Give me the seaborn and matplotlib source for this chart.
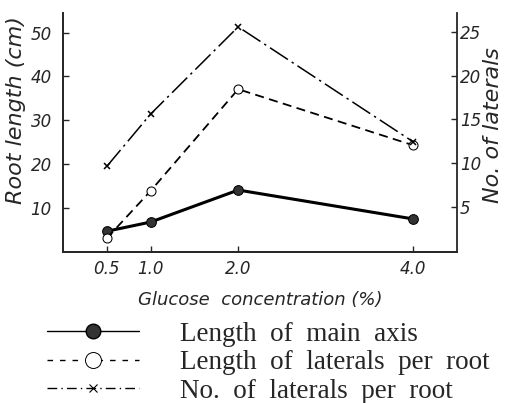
import numpy as np
import pandas as pd
import seaborn as sns
import matplotlib.pyplot as plt
from matplotlib.lines import Line2D

glucose = [0.5, 1.0, 2.0, 4.0]
main_axis_len = [4.7, 6.8, 14.1, 7.5]        # cm, left axis
lateral_len = [3.1, 13.9, 37.1, 24.3]        # cm, left axis
n_laterals = [9.6, 15.6, 25.6, 12.4]         # count, right axis

x_ticks = [0.5, 1.0, 2.0, 4.0]
x_ticklabels = ["0.5", "1.0", "2.0", "4.0"]
left_ticks = [10, 20, 30, 40, 50]
right_ticks = [5, 10, 15, 20, 25]

legend_labels = ["Length  of  main  axis",
                 "Length  of  laterals  per  root",
                 "No.  of  laterals  per  root"]

df = pd.DataFrame({"glucose": glucose, "main": main_axis_len,
                   "lateral": lateral_len, "count": n_laterals})

sns.set_style("ticks")
plt.rcParams['font.family'] = ['DejaVu Sans']

fig = plt.figure(figsize=(5.08, 4.03), dpi=100)
ax = fig.add_axes([0.124, 0.375, 0.776, 0.593])
ax2 = ax.twinx()

sns.lineplot(data=df, x="glucose", y="main", ax=ax, color="black",
             linewidth=2.2, marker="o", markersize=7, markerfacecolor="#333333",
             markeredgecolor="black")
sns.lineplot(data=df, x="glucose", y="lateral", ax=ax, color="black",
             linewidth=1.3, linestyle=(0, (5, 3)), marker="o", markersize=6.5,
             markerfacecolor="white", markeredgecolor="black")
sns.lineplot(data=df, x="glucose", y="count", ax=ax2, color="black",
             linewidth=1.1, linestyle=(0, (14, 3, 1.5, 3)), marker="x",
             markersize=5, markeredgewidth=1.1, markeredgecolor="black")

ax.set_xlim(0, 4.5)
ax.set_ylim(0, 54.5)
ax2.set_ylim(-0.2, 27.2)

tick_font = dict(fontsize=12, style="italic")
ax.set_xticks(x_ticks)
ax.set_xticklabels(x_ticklabels, **tick_font)
ax.set_yticks(left_ticks)
ax.set_yticklabels([str(t) for t in left_ticks], **tick_font)
ax2.set_yticks(right_ticks)
ax2.set_yticklabels([str(t) for t in right_ticks], **tick_font)

ax.tick_params(axis="x", direction="in", length=4, width=1, pad=6)
ax.tick_params(axis="y", direction="in", length=4, width=1, pad=8)
ax2.tick_params(axis="y", direction="in", length=4, width=1, pad=2)

for a in (ax, ax2):
    a.spines["top"].set_visible(False)
    for s in ("left", "right", "bottom"):
        a.spines[s].set_linewidth(1.3)
ax.spines["right"].set_visible(False)

ax.set_xlabel("Glucose  concentration (%)", fontsize=13, style="italic",
              labelpad=9)
ax.set_ylabel("Root length (cm)", fontsize=16, style="italic", labelpad=3)
ax2.set_ylabel("No. of laterals", fontsize=16, style="italic", labelpad=1)
# labels sit above centre in the original
ax.yaxis.label.set_y(0.594)
ax2.yaxis.label.set_y(0.53)

handles = [
    Line2D([], [], color="black", linewidth=1.0, marker="o", markersize=10.5,
           markerfacecolor="#333333", markeredgecolor="black"),
    Line2D([], [], color="black", linewidth=1.0, linestyle=(0, (4, 5)),
           marker="o", markersize=11.5, markerfacecolor="white",
           markeredgecolor="black", markeredgewidth=0.7),
    Line2D([], [], color="black", linewidth=1.0, linestyle=(0, (7, 3, 1, 3)),
           marker="x", markersize=6, markeredgewidth=0.8),
]
fig.legend(handles, legend_labels, loc="upper left",
           bbox_to_anchor=(0.045, 0.262), frameon=False, numpoints=1,
           handlelength=3.4, handletextpad=1.5, labelspacing=0.13,
           prop={"family": "Liberation Serif", "size": 19.5})

fig.savefig("out.png", dpi=100)
